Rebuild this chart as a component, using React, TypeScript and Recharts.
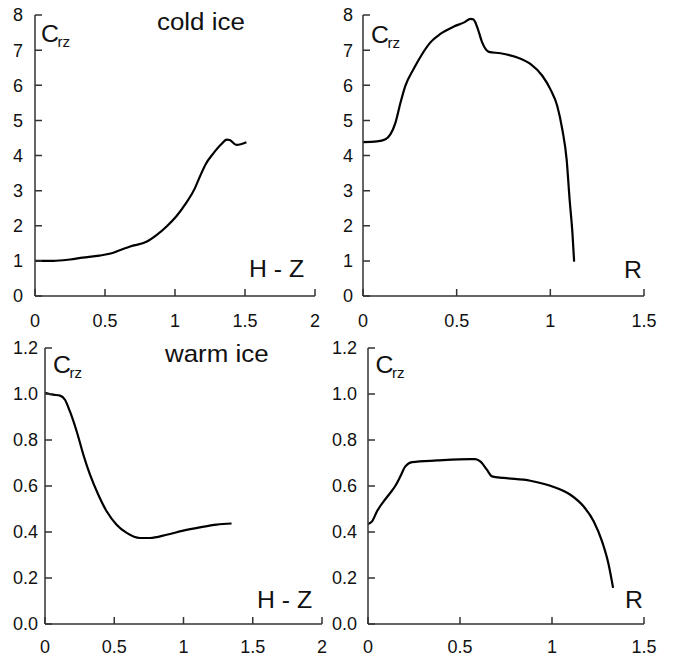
import React from "react";
import { LineChart, Line, XAxis, YAxis } from "recharts";

// cold ice, C_rz along H - Z
const coldHzX = [0, 0.13, 0.25, 0.34, 0.46, 0.54, 0.61, 0.68, 0.8, 0.87, 0.94, 1.01, 1.08, 1.14, 1.18, 1.22, 1.27, 1.33, 1.37, 1.39, 1.44, 1.47, 1.51];
const coldHzY = [1.0, 1.0, 1.04, 1.09, 1.15, 1.21, 1.31, 1.41, 1.55, 1.74, 1.98, 2.27, 2.65, 3.05, 3.42, 3.76, 4.04, 4.32, 4.45, 4.44, 4.3, 4.32, 4.38];

// cold ice, C_rz along R
const coldRX = [0, 0.075, 0.12, 0.146, 0.173, 0.2, 0.226, 0.27, 0.316, 0.36, 0.413, 0.485, 0.54, 0.574, 0.59, 0.61, 0.636, 0.672, 0.734, 0.824, 0.895, 0.957, 1.0, 1.037, 1.064, 1.087, 1.103, 1.118, 1.127];
const coldRY = [4.38, 4.4, 4.46, 4.6, 4.93, 5.5, 5.98, 6.46, 6.89, 7.22, 7.46, 7.67, 7.79, 7.89, 7.87, 7.65, 7.22, 6.95, 6.91, 6.79, 6.6, 6.27, 5.89, 5.41, 4.74, 3.89, 2.74, 1.79, 0.98];

// warm ice, C_rz along H - Z
const warmHzX = [0, 0.06, 0.108, 0.144, 0.18, 0.229, 0.277, 0.325, 0.385, 0.445, 0.517, 0.59, 0.685, 0.758, 0.878, 0.998, 1.118, 1.24, 1.347];
const warmHzY = [1.005, 0.997, 0.993, 0.975, 0.924, 0.837, 0.736, 0.649, 0.562, 0.49, 0.432, 0.396, 0.374, 0.374, 0.388, 0.406, 0.42, 0.432, 0.437];

// warm ice, C_rz along R
const warmRX = [0, 0.022, 0.049, 0.085, 0.121, 0.148, 0.176, 0.203, 0.239, 0.375, 0.556, 0.583, 0.61, 0.646, 0.674, 0.737, 0.882, 0.991, 1.1, 1.172, 1.227, 1.272, 1.308, 1.332];
const warmRY = [0.435, 0.446, 0.49, 0.533, 0.57, 0.6, 0.642, 0.685, 0.704, 0.711, 0.717, 0.717, 0.707, 0.671, 0.642, 0.635, 0.623, 0.601, 0.562, 0.511, 0.446, 0.359, 0.258, 0.157];

const hzTicks = [0, 0.5, 1, 1.5, 2];
const rTicks = [0, 0.5, 1, 1.5];
const coldTicks = [0, 1, 2, 3, 4, 5, 6, 7, 8];
const warmTicks = [0, 0.2, 0.4, 0.6, 0.8, 1.0, 1.2];

const FONT = "'Liberation Sans', Arial, sans-serif";
const AXIS = "#333";
const TICK_LEN = 7;
const tickStyle = { fill: "#111", fontSize: 18, fontFamily: FONT };

const toPoints = (xs: number[], ys: number[]) => xs.map((x, i) => ({ x, y: ys[i] }));

interface PanelProps {
  data: { x: number; y: number }[];
  left: number;
  top: number;
  width: number;
  height: number;
  marginTop: number;
  marginRight: number;
  yWidth: number;
  xHeight: number;
  xTicks: number[];
  yTicks: number[];
  yDigits?: number;
  yGap: number;
  xGap: number;
}

function Panel(p: PanelProps) {
  const xMax = p.xTicks[p.xTicks.length - 1];
  const yMax = p.yTicks[p.yTicks.length - 1];
  const yFmt = (v: number) => (p.yDigits ? v.toFixed(p.yDigits) : String(v));
  // plot box, same as the one recharts lays out from the margins
  const x0 = p.yWidth;
  const y0 = p.height - p.xHeight;
  const plotW = p.width - p.marginRight - p.yWidth;
  const plotH = p.height - p.marginTop - p.xHeight;
  const marks =
    p.yTicks.map((t) => {
      const y = y0 - (t / yMax) * plotH;
      return `M${x0},${y}L${x0 + TICK_LEN},${y}`;
    }).join("") +
    p.xTicks.map((t) => {
      const x = x0 + (t / xMax) * plotW;
      return `M${x},${y0}L${x},${y0 - TICK_LEN}`;
    }).join("");
  return (
    <div style={{ position: "absolute", left: p.left, top: p.top, width: p.width, height: p.height }}>
      <LineChart
        width={p.width}
        height={p.height}
        data={p.data}
        margin={{ top: p.marginTop, right: p.marginRight, left: 0, bottom: 0 }}
      >
        <XAxis
          dataKey="x"
          type="number"
          domain={[0, xMax]}
          ticks={p.xTicks}
          height={p.xHeight}
          axisLine={{ stroke: AXIS, strokeWidth: 1.5 }}
          tickLine={false}
          tickSize={0}
          tickMargin={p.xGap}
          tick={tickStyle}
          interval={0}
        />
        <YAxis
          type="number"
          domain={[0, yMax]}
          ticks={p.yTicks}
          width={p.yWidth}
          axisLine={{ stroke: AXIS, strokeWidth: 1.5 }}
          tickLine={false}
          tickSize={0}
          tickMargin={p.yGap}
          tick={tickStyle}
          tickFormatter={yFmt}
          interval={0}
        />
        <Line
          dataKey="y"
          type="monotone"
          stroke="#000"
          strokeWidth={2.2}
          dot={false}
          activeDot={false}
          isAnimationActive={false}
        />
      </LineChart>
      {/* inward tick marks */}
      <svg
        width={p.width}
        height={p.height}
        style={{ position: "absolute", left: 0, top: 0, pointerEvents: "none" }}
      >
        <path d={marks} stroke={AXIS} strokeWidth={1.5} fill="none" />
      </svg>
    </div>
  );
}

function Txt({ x, y, size, children }: { x: number; y: number; size: number; children: React.ReactNode }) {
  return (
    <g transform={`translate(${x},${y}) scale(1.08,1)`}>
      <text x={0} y={0} fontSize={size} fontFamily={FONT} fill="#111">
        {children}
      </text>
    </g>
  );
}

function Crz({ x, y }: { x: number; y: number }) {
  return (
    <>
      <Txt x={x} y={y} size={23}>C</Txt>
      <Txt x={x + 16.5} y={y + 5} size={14}>rz</Txt>
    </>
  );
}

export default function App() {
  return (
    <div style={{ position: "absolute", left: 0, top: 0, width: 674, height: 657, background: "#fff", fontFamily: FONT }}>
      <Panel
        data={toPoints(coldHzX, coldHzY)}
        left={0} top={0} width={337} height={330}
        marginTop={15} marginRight={22} yWidth={35} xHeight={34}
        xTicks={hzTicks} yTicks={coldTicks} yGap={12} xGap={18}
      />
      <Panel
        data={toPoints(coldRX, coldRY)}
        left={320} top={0} width={354} height={330}
        marginTop={15} marginRight={30} yWidth={43} xHeight={34}
        xTicks={rTicks} yTicks={coldTicks} yGap={10} xGap={18}
      />
      <Panel
        data={toPoints(warmHzX, warmHzY)}
        left={0} top={330} width={337} height={327}
        marginTop={18} marginRight={15} yWidth={45} xHeight={33}
        xTicks={hzTicks} yTicks={warmTicks} yDigits={1} yGap={7} xGap={16}
      />
      <Panel
        data={toPoints(warmRX, warmRY)}
        left={320} top={330} width={354} height={327}
        marginTop={18} marginRight={30} yWidth={48} xHeight={33}
        xTicks={rTicks} yTicks={warmTicks} yDigits={1} yGap={11} xGap={16}
      />
      <svg width={674} height={657} style={{ position: "absolute", left: 0, top: 0, pointerEvents: "none" }}>
        <Txt x={157} y={30} size={24}>cold ice</Txt>
        <Txt x={165} y={362} size={24}>warm ice</Txt>
        <Crz x={41} y={42} />
        <Crz x={371} y={42.5} />
        <Crz x={53} y={373} />
        <Crz x={375.5} y={373} />
        <Txt x={249} y={277} size={23}>H - Z</Txt>
        <Txt x={257} y={608} size={23}>H - Z</Txt>
        <Txt x={624} y={278} size={23}>R</Txt>
        <Txt x={625} y={608} size={23}>R</Txt>
      </svg>
    </div>
  );
}
